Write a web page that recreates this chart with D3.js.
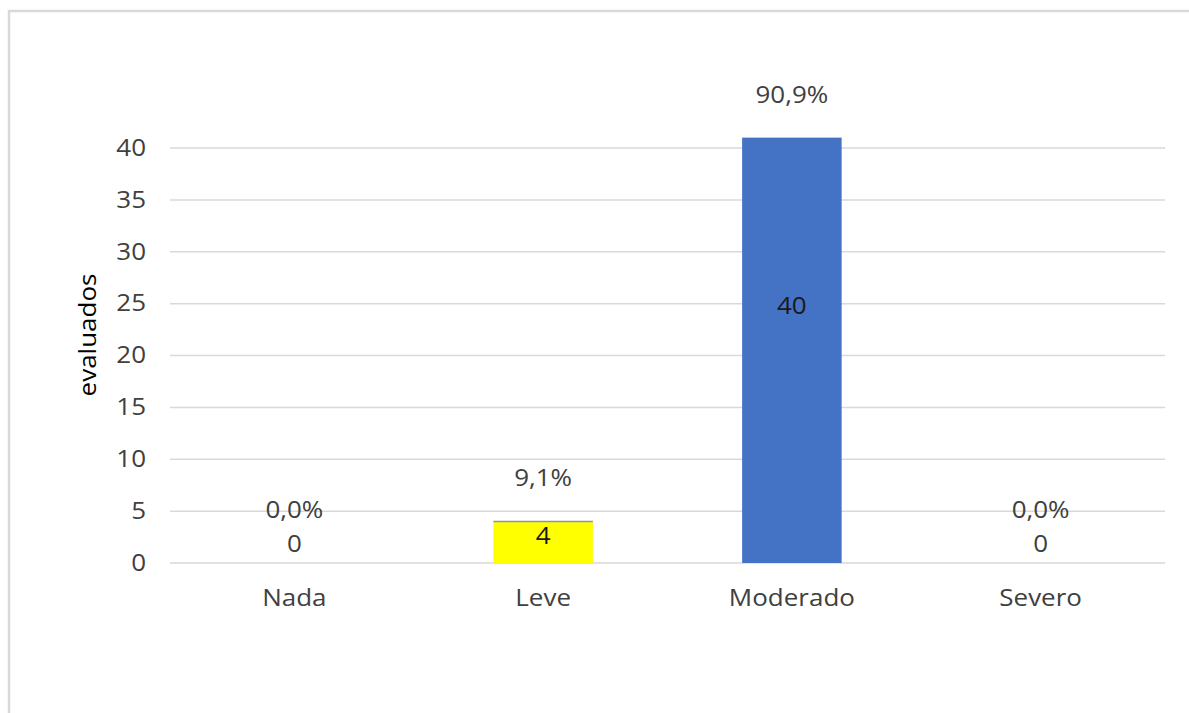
<!DOCTYPE html>
<html>
<head>
<meta charset="utf-8">
<script src="https://cdn.jsdelivr.net/npm/d3@7"></script>
<style>
  body { margin: 0; background: #fff; }
  text { font-family: "Open Sans", sans-serif; fill: #404040; }
</style>
</head>
<body>
<script>
// chart data
var categories = ["Nada", "Leve", "Moderado", "Severo"];
var barValues = [0, 4, 41, 0];
var countLabels = ["0", "4", "40", "0"];
var pctLabels = ["0,0%", "9,1%", "90,9%", "0,0%"];
var barColors = ["#4472c4", "#ffff00", "#4472c4", "#4472c4"];
var yTicks = [0, 5, 10, 15, 20, 25, 30, 35, 40];

var w = 1189, h = 713;
var fs = "23px", stretch = "scale(1.13,1)";

var svg = d3.select("body")
    .append("svg")
    .attr("width", w)
    .attr("height", h);

// outer frame
svg.append("rect")
    .attr("x", 9)
    .attr("y", 11)
    .attr("width", 1300)
    .attr("height", 800)
    .attr("fill", "none")
    .attr("stroke", "#d9d9d9")
    .attr("stroke-width", 2.5);

var x = d3.scaleBand()
    .domain(categories)
    .range([170, 1165])
    .paddingInner(0.6)
    .paddingOuter(0.3);

var y = d3.scaleLinear()
    .domain([0, 40])
    .range([563, 148]);

// gridlines
svg.selectAll(".grid")
    .data(yTicks)
    .enter()
    .append("line")
    .attr("class", "grid")
    .attr("x1", 170)
    .attr("x2", 1165)
    .attr("y1", function(d){ return y(d); })
    .attr("y2", function(d){ return y(d); })
    .attr("stroke", "#d9d9d9")
    .attr("stroke-width", 1.5);

// y axis labels
var yAxis = svg.append("g")
    .attr("transform", "translate(146,0)")
    .call(d3.axisLeft(y).tickValues(yTicks).tickSize(0).tickPadding(0));
yAxis.select(".domain").remove();
yAxis.selectAll("text")
    .attr("transform", stretch)
    .style("font-family", "'Open Sans', sans-serif")
    .style("font-size", fs)
    .attr("fill", "#404040");

// x axis labels
var xAxis = svg.append("g")
    .attr("transform", "translate(0,578)")
    .call(d3.axisBottom(x).tickSize(0).tickPadding(12));
xAxis.select(".domain").remove();
xAxis.selectAll("text")
    .attr("transform", stretch)
    .style("font-family", "'Open Sans', sans-serif")
    .style("font-size", fs)
    .attr("fill", "#404040");

// axis title
svg.append("text")
    .attr("transform", "translate(96,335) rotate(-90) " + stretch)
    .attr("text-anchor", "middle")
    .style("font-size", fs)
    .style("fill", "#000")
    .text("evaluados");

// bars
svg.selectAll(".bar")
    .data(barValues)
    .enter()
    .append("rect")
    .attr("class", "bar")
    .attr("x", function(d, i){ return x(categories[i]); })
    .attr("width", x.bandwidth())
    .attr("y", function(d){ return y(d); })
    .attr("height", function(d){ return y(0) - y(d); })
    .attr("fill", function(d, i){ return barColors[i]; });

// thin top edge on the yellow bar
svg.append("line")
    .attr("x1", x("Leve"))
    .attr("x2", x("Leve") + x.bandwidth())
    .attr("y1", y(barValues[1]))
    .attr("y2", y(barValues[1]))
    .attr("stroke", "#8497b0")
    .attr("stroke-width", 1.5);

function cx(i){ return x(categories[i]) + x.bandwidth() / 2; }

// count labels
svg.selectAll(".countLabel")
    .data(countLabels)
    .enter()
    .append("text")
    .attr("class", "countLabel")
    .attr("text-anchor", "middle")
    .attr("dominant-baseline", "central")
    .attr("transform", function(d, i){
        var ly = Math.min(y(barValues[i] * 0.6) - 3, y(0) - 20);
        return "translate(" + cx(i) + "," + ly + ") " + stretch;
    })
    .style("font-size", fs)
    .style("fill", function(d, i){ return barValues[i] > 0 ? "#1a1a1a" : "#404040"; })
    .text(function(d){ return d; });

// percentage labels
svg.selectAll(".pctLabel")
    .data(pctLabels)
    .enter()
    .append("text")
    .attr("class", "pctLabel")
    .attr("text-anchor", "middle")
    .attr("dominant-baseline", "central")
    .attr("transform", function(d, i){
        var ly = Math.min(y(barValues[i]) - 44, y(0) - 54);
        return "translate(" + cx(i) + "," + ly + ") " + stretch;
    })
    .style("font-size", fs)
    .text(function(d){ return d; });
</script>
</body>
</html>
